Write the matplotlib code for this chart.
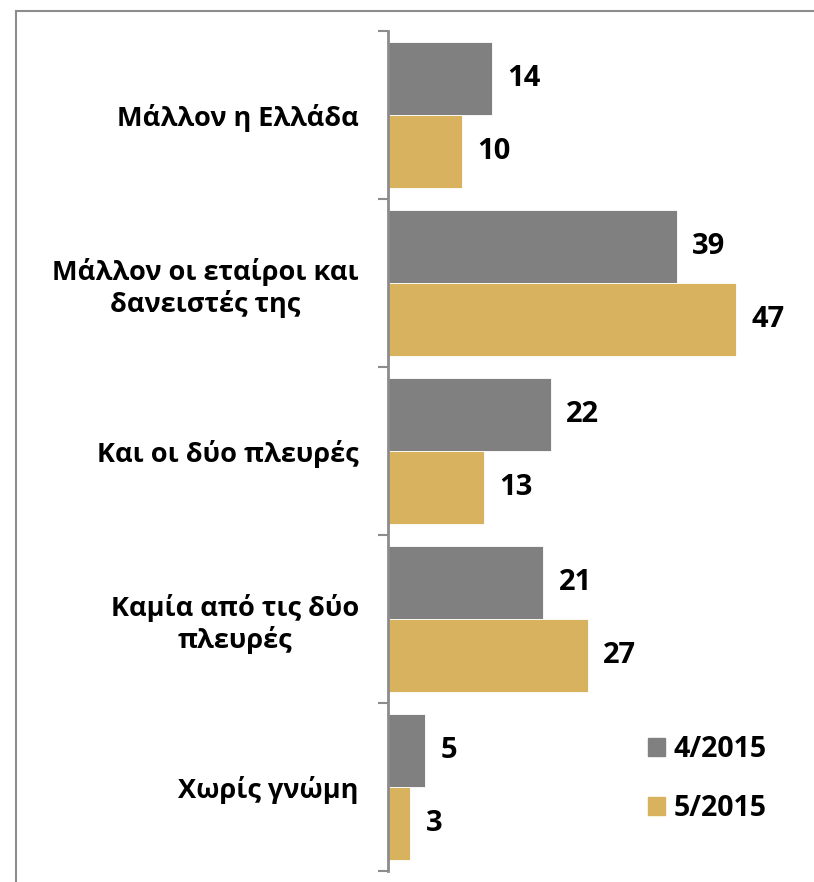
import matplotlib.pyplot as plt
from matplotlib.patches import Rectangle, Patch

categories = ['Μάλλον η Ελλάδα', 'Μάλλον οι εταίροι και\nδανειστές της', 'Και οι δύο πλευρές',
              'Καμία από τις δύο\nπλευρές', 'Χωρίς γνώμη']
apr_2015 = [14, 39, 22, 21, 5]
may_2015 = [10, 47, 13, 27, 3]
series_names = ['4/2015', '5/2015']

plt.rcParams['font.family'] = ['Open Sans', 'DejaVu Sans']
c_grey = '#808080'
c_gold = '#D9B25F'

W, H = 814, 882
fig = plt.figure(figsize=(W / 100, H / 100), dpi=100)
ax = fig.add_axes([388 / W, 1 - 871 / H, 1 - 388 / W, (871 - 31) / H])

# outer frame (partly cut off on right / bottom)
fig.add_artist(Rectangle((16 / W, -0.1), 2, 1.1 - 11 / H, transform=fig.transFigure,
                         fill=False, edgecolor='#8c8c8c', linewidth=1.5))

h = 0.435
ys = range(len(categories))
b1 = ax.barh([y - h / 2 for y in ys], apr_2015, height=h, color=c_grey, edgecolor='white', linewidth=0.6)
b2 = ax.barh([y + h / 2 for y in ys], may_2015, height=h, color=c_gold, edgecolor='white', linewidth=0.6)

for bars, vals in [(b1, apr_2015), (b2, may_2015)]:
    for bar, v in zip(bars, vals):
        ax.annotate(str(v), (v, bar.get_y() + bar.get_height() / 2), xytext=(11, 0),
                    textcoords='offset points', ha='left', va='center',
                    fontsize=21, fontweight='bold')

ax.set_xlim(0, (W - 388) / 7.4)
ax.set_ylim(len(categories) - 0.5, -0.5)

ax.set_yticks(list(ys))
ax.set_yticklabels(categories, fontsize=19.5, fontweight='bold', multialignment='center',
                   linespacing=1.2)
ax.tick_params(axis='y', which='major', length=0, pad=21)
ax.set_yticks([i - 0.5 for i in range(len(categories) + 1)], minor=True)
ax.tick_params(axis='y', which='minor', length=7, width=1.5, color='#8c8c8c', direction='out')
ax.set_xticks([])
for s in ['top', 'right', 'bottom']:
    ax.spines[s].set_visible(False)
ax.spines['left'].set_color('#8c8c8c')
ax.spines['left'].set_linewidth(2)

handles = [Patch(color=c_grey), Patch(color=c_gold)]
leg = fig.legend(handles, series_names, loc='center left', bbox_to_anchor=(634 / W, 1 - 779 / H),
                 frameon=False, fontsize=20.5, handlelength=0.6, handleheight=0.6,
                 handletextpad=0.3, labelspacing=1.05, borderpad=0)
for t in leg.get_texts():
    t.set_fontweight('bold')

fig.savefig('out.png', dpi=100)
